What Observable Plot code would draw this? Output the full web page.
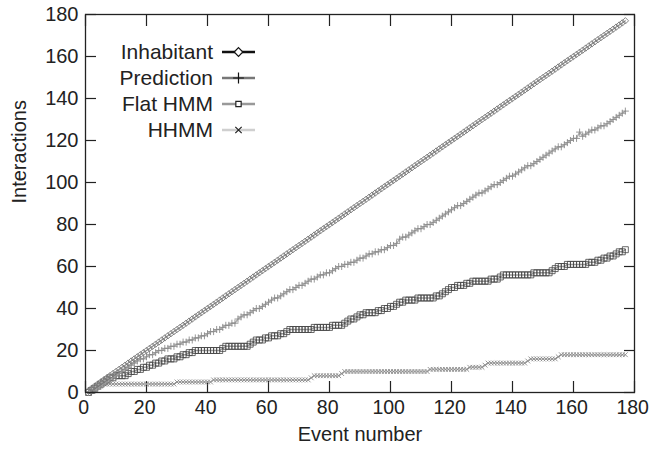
<!DOCTYPE html>
<html><head><meta charset="utf-8">
<script src="https://cdn.jsdelivr.net/npm/d3@7"></script>
<script src="https://cdn.jsdelivr.net/npm/@observablehq/plot@0.6"></script>
<style>
body{margin:0;background:#fff;}
#chart{position:relative;width:649px;height:454px;}
#chart svg{font-family:"Liberation Sans",Arial,Helvetica,sans-serif;}
#legend{position:absolute;left:0;top:0;pointer-events:none;}
</style>
</head><body><div id="chart"></div>
<script>
const events = [
 1,2,3,4,5,6,7,8,9,10,11,12,13,14,15,16,17,18,19,20,
 21,22,23,24,25,26,27,28,29,30,31,32,33,34,35,36,37,38,39,40,
 41,42,43,44,45,46,47,48,49,50,51,52,53,54,55,56,57,58,59,60,
 61,62,63,64,65,66,67,68,69,70,71,72,73,74,75,76,77,78,79,80,
 81,82,83,84,85,86,87,88,89,90,91,92,93,94,95,96,97,98,99,100,
 101,102,103,104,105,106,107,108,109,110,111,112,113,114,115,116,117,118,119,120,
 121,122,123,124,125,126,127,128,129,130,131,132,133,134,135,136,137,138,139,140,
 141,142,143,144,145,146,147,148,149,150,151,152,153,154,155,156,157,158,159,160,
 161,162,163,164,165,166,167,168,169,170,171,172,173,174,175,176,177];
const inhabitant = [
 1,2,3,4,5,6,7,8,9,10,11,12,13,14,15,16,17,18,19,20,
 21,22,23,24,25,26,27,28,29,30,31,32,33,34,35,36,37,38,39,40,
 41,42,43,44,45,46,47,48,49,50,51,52,53,54,55,56,57,58,59,60,
 61,62,63,64,65,66,67,68,69,70,71,72,73,74,75,76,77,78,79,80,
 81,82,83,84,85,86,87,88,89,90,91,92,93,94,95,96,97,98,99,100,
 101,102,103,104,105,106,107,108,109,110,111,112,113,114,115,116,117,118,119,120,
 121,122,123,124,125,126,127,128,129,130,131,132,133,134,135,136,137,138,139,140,
 141,142,143,144,145,146,147,148,149,150,151,152,153,154,155,156,157,158,159,160,
 161,162,163,164,165,166,167,168,169,170,171,172,173,174,175,176,177];
const prediction = [
 0,1,1,2,3,4,5,6,7,8, 9,10,11,12,13,14,15,16,16,17,
 18,18,19,20,20,21,21,22,22,23, 23,24,24,25,25,26,26,27,27,28,
 29,29,30,30,31,32,32,33,33,35, 36,37,37,38,39,40,40,41,42,43,
 44,45,45,46,47,48,49,49,50,51, 51,52,53,54,54,55,56,56,57,57,
 58,59,60,60,61,61,62,62,63,64, 64,65,66,66,67,67,68,68,69,70,
 70,71,73,74,74,75,76,77,78,78, 79,80,80,81,82,83,84,85,86,87,
 88,89,89,90,91,92,93,94,95,95, 96,97,98,99,99,100,101,102,103,103,
 104,105,106,107,108,108,109,110,111,112, 113,114,115,116,117,117,118,119,120,121,
 121,124,122,123,124,125,125,126,127,127, 128,129,130,131,132,133,134];
const flatHMM = [
 0,1,2,3,4,5,6,7,7,8, 8,8,8,9,10,10,11,11,12,12,
 13,13,14,14,15,15,16,16,16,17, 17,18,18,19,19,20,20,20,20,20,
 20,20,20,20,21,22,22,22,22,22, 22,22,22,23,24,25,25,25,26,26,
 27,27,27,28,28,29,30,30,30,30, 30,30,30,30,31,31,31,31,31,31,
 32,32,32,32,33,34,35,35,36,37, 37,38,38,38,38,39,39,40,40,41,
 41,42,43,43,44,44,44,44,45,45, 45,45,45,45,46,46,47,48,49,50,
 50,51,51,51,52,52,53,53,53,53, 53,53,54,54,54,55,56,56,56,56,
 56,56,56,56,56,56,57,57,57,57, 57,57,58,59,60,60,60,61,61,61,
 61,61,61,61,62,62,62,63,63,64, 64,65,65,66,67,67,68];
const hhmm = [
 0,1,2,3,3,4,4,4,4,4, 4,4,4,4,4,4,4,4,4,4,
 4,4,4,4,4,4,4,4,4,5, 5,5,5,5,5,5,5,5,5,5,
 5,6,6,6,6,6,6,6,6,6, 6,6,6,6,6,6,6,6,6,6,
 6,6,6,6,6,6,6,6,6,6, 6,6,6,7,8,8,8,8,8,8,
 8,8,8,9,10,10,10,10,10,10, 10,10,10,10,10,10,10,10,10,10,
 10,10,10,10,10,10,10,10,10,10, 10,10,11,11,11,11,11,11,11,11,
 11,11,11,11,11,12,12,12,12,12, 13,14,14,14,14,14,14,14,14,14,
 14,14,14,14,15,16,16,16,16,16, 16,16,16,16,17,18,18,18,18,18,
 18,18,18,18,18,18,18,18,18,18, 18,18,18,18,18,18,18];
const xTicks = [0,20,40,60,80,100,120,140,160,180];
const yTicks = [0,20,40,60,80,100,120,140,160,180];
const seriesNames = ["Inhabitant","Prediction","Flat HMM","HHMM"];
const xTitle = "Event number";
const yTitle = "Interactions";

const rows = (vals) => events.map((e, i) => ({x: e, y: vals[i]}));
const dInh = rows(inhabitant), dPred = rows(prediction), dFlat = rows(flatHMM), dH = rows(hhmm);

const FS = 20;
const plot = Plot.plot({
  width: 649, height: 454,
  marginLeft: 85, marginRight: 15, marginTop: 14, marginBottom: 62,
  style: {fontSize: FS + "px", fontFamily: '"Liberation Sans", Arial, sans-serif', color: "#222", background: "#fff"},
  x: {domain: [0, 180], label: null},
  y: {domain: [0, 180], label: null},
  marks: [
    // inward ticks on all four sides
    Plot.axisX({anchor: "bottom", ticks: xTicks, tickSize: 11, dy: -11, tickFormat: () => "", label: null, strokeWidth: 1.2}),
    Plot.axisX({anchor: "top", ticks: xTicks, tickSize: 11, dy: 11, tickFormat: () => "", label: null, strokeWidth: 1.2}),
    Plot.axisY({anchor: "left", ticks: yTicks, tickSize: 11, dx: 11, tickFormat: () => "", label: null, strokeWidth: 1.2}),
    Plot.axisY({anchor: "right", ticks: yTicks, tickSize: 11, dx: -11, tickFormat: () => "", label: null, strokeWidth: 1.2}),
    // labels
    Plot.axisX({anchor: "bottom", ticks: xTicks, tickSize: 0, tickPadding: 8, dx: -1.8, label: null, fontSize: 19.5}),
    Plot.axisY({anchor: "left", ticks: yTicks, tickSize: 0, tickPadding: 7, label: null, fontSize: FS}),
    Plot.text([xTitle], {frameAnchor: "bottom", dy: 48, fontSize: FS, fill: "#222"}),
    Plot.text([yTitle], {frameAnchor: "left", dx: -66, rotate: -90, fontSize: FS, fill: "#222"}),
    // series
    Plot.line(dH, {x: "x", y: "y", stroke: "#c4c4c4", strokeWidth: 1.5}),
    Plot.dot(dH, {x: "x", y: "y", symbol: "times", r: 2.3, stroke: "#8a8a8a", strokeWidth: 0.9}),
    Plot.line(dFlat, {x: "x", y: "y", stroke: "#9a9a9a", strokeWidth: 1.5}),
    Plot.dot(dFlat, {x: "x", y: "y", symbol: "square2", r: 3.8, stroke: "#444", fill: "none", strokeWidth: 0.8}),
    Plot.line(dPred, {x: "x", y: "y", stroke: "#ababab", strokeWidth: 1.3}),
    Plot.dot(dPred, {x: "x", y: "y", symbol: "plus", r: 2.4, stroke: "#8c8c8c", strokeWidth: 0.9}),
    Plot.line(dInh, {x: "x", y: "y", stroke: "#8a8a8a", strokeWidth: 1.2}),
    Plot.dot(dInh, {x: "x", y: "y", symbol: "diamond2", r: 2.9, stroke: "#777", fill: "none", strokeWidth: 0.9}),
    Plot.frame({stroke: "#222", strokeWidth: 1.3})
  ]
});
const chart = document.getElementById("chart");
chart.appendChild(plot);

// legend overlay
const legendStyles = [
  {line: "#111", lw: 2.4, sym: d3.symbolDiamond2, size: 48, stroke: "#111", sw: 1.2},
  {line: "#777", lw: 2.4, sym: d3.symbolPlus, size: 40, stroke: "#111", sw: 1.2},
  {line: "#999", lw: 2.4, sym: d3.symbolSquare2, size: 36, stroke: "#222", sw: 1.2},
  {line: "#cfcfcf", lw: 2.4, sym: d3.symbolTimes, size: 28, stroke: "#222", sw: 1.2}
];
const lg = d3.select(chart).append("svg").attr("id", "legend").attr("width", 649).attr("height", 454)
  .style("font-family", '"Liberation Sans", Arial, sans-serif');
seriesNames.forEach((name, i) => {
  const y = 52 + i * 26;
  const s = legendStyles[i];
  lg.append("text").attr("x", 213).attr("y", y).attr("dy", "0.35em").attr("text-anchor", "end")
    .attr("font-size", 21).attr("fill", "#222").text(name);
  lg.append("line").attr("x1", 222).attr("x2", 255).attr("y1", y).attr("y2", y)
    .attr("stroke", s.line).attr("stroke-width", s.lw);
  lg.append("path").attr("d", d3.symbol(s.sym, s.size)()).attr("transform", `translate(238.5,${y})`)
    .attr("fill", i === 0 || i === 2 ? "#fff" : "none").attr("stroke", s.stroke).attr("stroke-width", s.sw);
});
</script>
</body></html>
